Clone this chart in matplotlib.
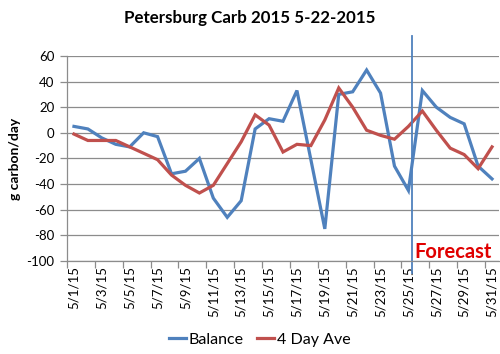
import matplotlib
matplotlib.use("Agg")
import matplotlib.pyplot as plt
from matplotlib.lines import Line2D

plt.rcParams['font.family'] = ['Lato', 'DejaVu Sans']

dates = [f"5/{d}/15" for d in range(1, 32)]
balance = [5, 3, -4, -9, -11, 0, -3, -32, -30, -20, -51, -66, -53, 3, 11, 9, 33,
           -21, -75, 30, 32, 49, 31, -26, -45, 33, 20, 12, 7, -26, -36]
avg4 = [-1, -6, -6, -6, -11, -16, -21, -33, -41, -47, -41, -24, -7, 14, 6, -15, -9,
        -10, 10, 35, 20, 2, -2, -5, 5, 17, 2, -12, -17, -28, -11]
yticks = [60, 40, 20, 0, -20, -40, -60, -80, -100]
title = "Petersburg Carb 2015 5-22-2015"
ylabel = "g carbon/day"
forecast_pos = 24.25

BLUE = "#4F81BD"
RED = "#C0504D"
GRID = "#8C8C8C"

fig = plt.figure(figsize=(5.0, 3.54), dpi=100)
ax = fig.add_axes([0.134, 0.263, 0.864, 0.579])

x = list(range(len(dates)))
ax.plot(x, balance, color=BLUE, lw=2.3, label="Balance", solid_joinstyle='miter')
ax.plot(x, avg4, color=RED, lw=2.3, label="4 Day Ave", solid_joinstyle='miter')

ax.set_xlim(-0.5, len(dates) - 0.5)
ax.set_ylim(-100, 60)
ax.set_yticks(yticks)
ax.set_yticklabels([str(v) for v in yticks], fontsize=9.5)
ax.yaxis.grid(True, color=GRID, lw=0.9)
ax.set_axisbelow(True)

ax.set_xticks([i - 0.5 for i in range(0, len(dates), 2)])
ax.set_xticklabels([])
ax.set_xticks(x[::2], minor=True)
ax.set_xticklabels(dates[::2], minor=True, rotation=90, fontsize=9.5)
ax.tick_params(axis='x', which='minor', length=0, pad=4)
ax.tick_params(axis='x', which='major', length=5, color=GRID, width=0.9, direction='out')
ax.tick_params(axis='y', length=5, color=GRID, width=0.9, direction='out', pad=4)

for s in ['top', 'right']:
    ax.spines[s].set_visible(False)
for s in ['left', 'bottom']:
    ax.spines[s].set_color(GRID)
    ax.spines[s].set_linewidth(0.9)

ax.set_ylabel(ylabel, fontsize=10, fontweight='bold', labelpad=4)
fig.text(0.5, 0.948, title, ha='center', va='center', fontsize=12.2, fontweight='bold')

# forecast marker line
ax.add_line(Line2D([forecast_pos, forecast_pos], [-0.06, 1.098], color=BLUE, lw=1.3,
                   transform=ax.get_xaxis_transform(), clip_on=False))
ax.text(forecast_pos + 0.2, -101, "Forecast", color="#E00000", fontsize=14.5,
        fontweight='bold', ha='left', va='bottom')

leg = fig.legend(handles=ax.get_lines()[:2], loc='center', bbox_to_anchor=(0.519, 0.04),
                 ncol=2, frameon=False, fontsize=11.5, handlelength=1.1, handletextpad=0.15,
                 columnspacing=0.8)

fig.savefig("out.png", dpi=100)
